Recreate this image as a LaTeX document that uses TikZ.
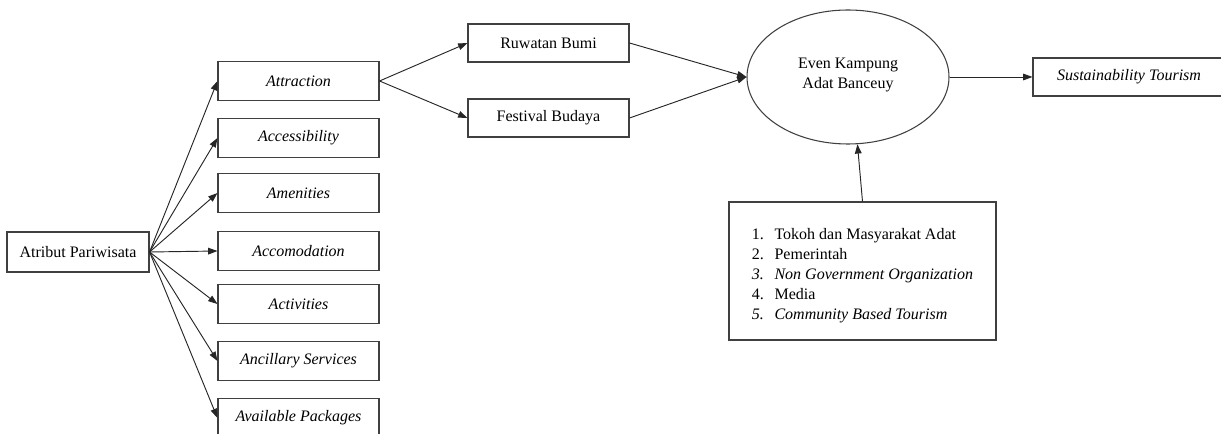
\documentclass[tikz,border=0pt]{standalone}
\usepackage{fontspec}
\setmainfont{Liberation Serif}
\usetikzlibrary{arrows.meta,shapes.geometric}
\begin{document}
\begin{tikzpicture}[x=0.75pt,y=-0.75pt, font=\fontsize{12}{15}\selectfont,
  kotak/.style={draw=black!75, line width=0.8pt, rectangle, inner sep=0pt, minimum height=29pt},
  atribut/.style={kotak, minimum width=120.75pt, font=\fontsize{12}{15}\selectfont\itshape},
  panah/.style={-{Triangle[length=7pt,width=5pt]}, line width=0.7pt, black!85}]
\useasboundingbox (0,0) rectangle (1221,434);
\clip (0,0) rectangle (1221,434);

\node[kotak, minimum width=106.5pt, minimum height=30pt] (atribut) at (78,252) {Atribut Pariwisata};

\node[atribut] (attraction) at (298.5,81) {Attraction};
\node[atribut] (accessibility) at (298.5,138) {Accessibility};
\node[atribut] (amenities) at (298.5,193) {Amenities};
\node[atribut] (accomodation) at (298.5,251) {Accomodation};
\node[atribut] (activities) at (298.5,304) {Activities};
\node[atribut] (ancillary) at (298.5,361) {Ancillary Services};
\node[atribut] (available) at (298.5,418) {Available Packages};

\node[kotak, minimum width=120.75pt, minimum height=28.5pt] (ruwatan) at (548.5,43) {Ruwatan Bumi};
\node[kotak, minimum width=120.75pt, minimum height=28.5pt] (festival) at (548.5,118) {Festival Budaya};

\node[draw=black!75, line width=0.8pt, ellipse, minimum width=151.5pt, minimum height=100.5pt, inner sep=0pt, align=center] (even) at (848,77) {Even Kampung\\Adat Banceuy\\[-9pt]\mbox{}};
\node[atribut, minimum width=144pt, minimum height=28.5pt] (sustain) at (1129,77) {Sustainability Tourism};

\node[kotak, minimum width=200.25pt, minimum height=103.5pt, align=left] (pihak) at (862.5,271) {%
\rule{0pt}{16pt}\makebox[17pt][l]{1.}Tokoh dan Masyarakat Adat\\
\makebox[17pt][l]{2.}Pemerintah\\
\textit{\makebox[17pt][l]{3.}Non Government Organization}\\
\makebox[17pt][l]{4.}Media\\
\textit{\makebox[17pt][l]{5.}Community Based Tourism}};

% atribut pariwisata
\draw[panah] (atribut.east) -- (attraction.west);
\draw[panah] (atribut.east) -- (accessibility.west);
\draw[panah] (atribut.east) -- (amenities.west);
\draw[panah] (atribut.east) -- (accomodation.west);
\draw[panah] (atribut.east) -- (activities.west);
\draw[panah] (atribut.east) -- (ancillary.west);
\draw[panah] (atribut.east) -- (available.west);

% even
\draw[panah] (attraction.east) -- (ruwatan.west);
\draw[panah] (attraction.east) -- (festival.west);
\draw[panah] (ruwatan.east) -- (even.west);
\draw[panah] (festival.east) -- (even.west);
\draw[panah] (even.east) -- (sustain.west);
\draw[panah] (pihak.north) -- (even.-82);
\end{tikzpicture}
\end{document}
